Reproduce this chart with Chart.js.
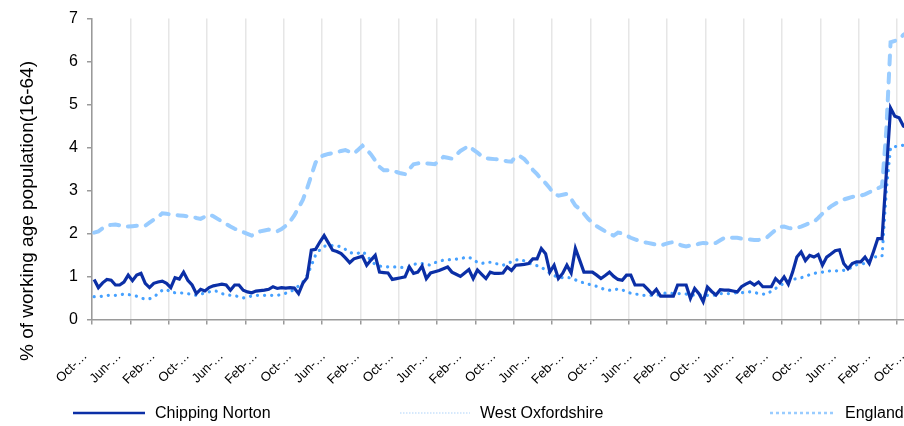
<!DOCTYPE html>
<html lang="en">
<head>
<meta charset="utf-8">
<title>Claimant count, % of working age population</title>
<script src="https://cdn.jsdelivr.net/npm/chart.js@4.4.1/dist/chart.umd.min.js"></script>
<style>
    html, body { margin: 0; padding: 0; background: #fff; overflow: hidden; }
    .wrap { position: relative; width: 914px; height: 426px; }
    #chart { position: absolute; left: 0; top: 0; }
    .legend { position: absolute; left: 0; top: 403px; width: 904px; height: 20px;
              font: 16px "Liberation Sans", Arial, sans-serif; color: #000; }
    .legend-item { position: absolute; top: 0; height: 20px; display: flex; align-items: center; white-space: nowrap; }
    .legend-item svg { margin-right: 10px; }
</style>
</head>
<body>
<div class="wrap">
    <canvas id="chart" width="914" height="426"></canvas>
    <div class="legend" id="legend"></div>
</div>
<script>
// Months Oct-04 .. Oct-20 (category axis)
const MONTHS = ['Jan', 'Feb', 'Mar', 'Apr', 'May', 'Jun', 'Jul', 'Aug', 'Sep', 'Oct', 'Nov', 'Dec'];
const categories = [];
for (let m = 2004 * 12 + 9; m <= 2020 * 12 + 9; m++) {
    categories.push(MONTHS[m % 12] + '-' + String(Math.floor(m / 12)).slice(2));
}

const yTicks = [0, 1, 2, 3, 4, 5, 6, 7];

const chippingNorton = [
    0.93, 0.74, 0.85, 0.93, 0.91, 0.80, 0.80, 0.87, 1.03, 0.90,
    1.03, 1.07, 0.84, 0.74, 0.84, 0.87, 0.89, 0.84, 0.74, 0.97,
    0.94, 1.10, 0.91, 0.80, 0.60, 0.70, 0.66, 0.74, 0.78, 0.80,
    0.82, 0.80, 0.68, 0.80, 0.80, 0.68, 0.64, 0.62, 0.66, 0.67,
    0.68, 0.70, 0.76, 0.72, 0.74, 0.73, 0.74, 0.73, 0.60, 0.84,
    0.97, 1.61, 1.63, 1.80, 1.95, 1.78, 1.61, 1.58, 1.53, 1.43,
    1.32, 1.41, 1.44, 1.47, 1.26, 1.38, 1.49, 1.10, 1.09, 1.08,
    0.93, 0.95, 0.97, 0.99, 1.22, 1.07, 1.10, 1.24, 0.95, 1.08,
    1.11, 1.14, 1.18, 1.22, 1.10, 1.05, 1.00, 1.08, 1.16, 0.95,
    1.15, 1.05, 0.95, 1.10, 1.07, 1.07, 1.08, 1.22, 1.14, 1.26,
    1.27, 1.28, 1.30, 1.41, 1.41, 1.65, 1.53, 1.10, 1.26, 0.95,
    1.07, 1.26, 1.08, 1.65, 1.38, 1.10, 1.10, 1.10, 1.03, 0.95,
    1.02, 1.10, 1.00, 0.93, 0.91, 1.03, 1.03, 0.80, 0.80, 0.80,
    0.70, 0.59, 0.70, 0.54, 0.54, 0.54, 0.54, 0.80, 0.80, 0.80,
    0.49, 0.72, 0.60, 0.41, 0.75, 0.65, 0.57, 0.69, 0.68, 0.68,
    0.66, 0.64, 0.76, 0.82, 0.87, 0.80, 0.87, 0.76, 0.76, 0.76,
    0.95, 0.85, 0.99, 0.82, 1.10, 1.45, 1.57, 1.37, 1.49, 1.45,
    1.51, 1.26, 1.45, 1.52, 1.60, 1.62, 1.30, 1.18, 1.30, 1.34,
    1.34, 1.45, 1.30, 1.58, 1.88, 1.88, 3.40, 4.92, 4.73, 4.69,
    4.50, 4.45, 4.40
];

const westOxfordshire = [
    0.53, 0.53, 0.54, 0.56, 0.56, 0.56, 0.57, 0.59, 0.58, 0.56,
    0.54, 0.50, 0.47, 0.48, 0.52, 0.60, 0.68, 0.70, 0.63, 0.62,
    0.62, 0.61, 0.60, 0.58, 0.56, 0.59, 0.61, 0.64, 0.67, 0.65,
    0.60, 0.58, 0.56, 0.55, 0.53, 0.50, 0.51, 0.55, 0.56, 0.56,
    0.56, 0.56, 0.56, 0.56, 0.58, 0.61, 0.64, 0.70, 0.78, 0.87,
    1.02, 1.25, 1.50, 1.62, 1.70, 1.72, 1.72, 1.72, 1.68, 1.63,
    1.56, 1.53, 1.54, 1.58, 1.50, 1.36, 1.28, 1.24, 1.23, 1.22,
    1.22, 1.22, 1.21, 1.21, 1.22, 1.28, 1.30, 1.30, 1.28, 1.26,
    1.32, 1.35, 1.38, 1.39, 1.39, 1.40, 1.41, 1.44, 1.45, 1.39,
    1.33, 1.30, 1.33, 1.33, 1.30, 1.29, 1.26, 1.30, 1.34, 1.38,
    1.40, 1.36, 1.32, 1.27, 1.25, 1.22, 1.14, 1.08, 1.02, 0.98,
    0.97, 0.98, 0.96, 0.92, 0.88, 0.85, 0.82, 0.80, 0.77, 0.73,
    0.69, 0.68, 0.68, 0.71, 0.69, 0.64, 0.61, 0.59, 0.58, 0.56,
    0.56, 0.56, 0.56, 0.58, 0.61, 0.61, 0.60, 0.60, 0.60, 0.59,
    0.57, 0.56, 0.57, 0.56, 0.56, 0.55, 0.57, 0.60, 0.60, 0.60,
    0.61, 0.62, 0.62, 0.63, 0.64, 0.63, 0.60, 0.59, 0.59, 0.66,
    0.72, 0.78, 0.85, 0.89, 0.93, 0.95, 0.97, 1.00, 1.04, 1.07,
    1.09, 1.10, 1.12, 1.13, 1.13, 1.13, 1.14, 1.17, 1.22, 1.27,
    1.30, 1.30, 1.37, 1.45, 1.46, 1.47, 3.00, 4.00, 4.02, 4.04,
    4.05, 4.05, 4.05
];

const england = [
    2.02, 2.05, 2.12, 2.18, 2.20, 2.21, 2.19, 2.16, 2.16, 2.17,
    2.18, 2.18, 2.18, 2.25, 2.32, 2.38, 2.47, 2.46, 2.44, 2.43,
    2.42, 2.41, 2.40, 2.39, 2.36, 2.34, 2.39, 2.44, 2.40, 2.34,
    2.28, 2.22, 2.16, 2.11, 2.07, 2.03, 1.99, 1.95, 2.00, 2.05,
    2.07, 2.09, 2.07, 2.05, 2.10, 2.18, 2.28, 2.42, 2.60, 2.78,
    3.05, 3.35, 3.65, 3.78, 3.82, 3.85, 3.87, 3.89, 3.92, 3.94,
    3.90, 3.86, 3.95, 4.04, 3.95, 3.84, 3.70, 3.55, 3.47, 3.47,
    3.46, 3.43, 3.40, 3.38, 3.50, 3.61, 3.63, 3.64, 3.63, 3.62,
    3.61, 3.70, 3.78, 3.76, 3.74, 3.83, 3.92, 3.98, 4.04, 3.95,
    3.88, 3.80, 3.75, 3.74, 3.73, 3.72, 3.70, 3.68, 3.67, 3.80,
    3.80, 3.73, 3.62, 3.48, 3.38, 3.26, 3.17, 3.05, 2.92, 2.88,
    2.90, 2.92, 2.80, 2.65, 2.57, 2.46, 2.34, 2.25, 2.17, 2.11,
    2.05, 1.99, 1.95, 2.02, 2.00, 1.95, 1.90, 1.86, 1.83, 1.80,
    1.78, 1.76, 1.74, 1.72, 1.75, 1.78, 1.80, 1.76, 1.72, 1.70,
    1.72, 1.73, 1.76, 1.78, 1.77, 1.76, 1.78, 1.84, 1.90, 1.91,
    1.90, 1.90, 1.88, 1.87, 1.86, 1.85, 1.85, 1.87, 1.91, 2.00,
    2.08, 2.15, 2.16, 2.13, 2.11, 2.13, 2.16, 2.20, 2.24, 2.27,
    2.36, 2.46, 2.55, 2.63, 2.69, 2.75, 2.79, 2.82, 2.85, 2.87,
    2.88, 2.91, 2.96, 3.00, 3.05, 3.10, 4.40, 6.45, 6.48, 6.52,
    6.62, 6.68, 6.70
];

const FONT = '"Liberation Sans", Arial, sans-serif';

// Excel-like legend swatches, keyed by dataset label
const legendSwatches = {
    'Chipping Norton': { left: 73, width: 72, stroke: '#0b2fa6', lineWidth: 2.5, dash: '' },
    'West Oxfordshire': { left: 400, width: 70, stroke: '#c9e2fb', lineWidth: 1.5, dash: '1.5,1.5' },
    'England': { left: 770, width: 65, stroke: '#99ccff', lineWidth: 2.5, dash: '3,3' }
};

/**
 * Rotated y-axis title, sitting a little below the centre of the plot like the original
 */
const yTitlePlugin = {
    id: 'yTitle',
    afterDraw(chart, args, opts) {
        const { ctx, chartArea } = chart;
        ctx.save();
        ctx.translate(opts.x, (chartArea.top + chartArea.bottom) / 2 + opts.shift);
        ctx.rotate(-Math.PI / 2);
        ctx.font = opts.font;
        ctx.fillStyle = opts.color;
        ctx.textAlign = 'center';
        ctx.textBaseline = 'middle';
        ctx.fillText(opts.text, 0, 0);
        ctx.restore();
    }
};

/**
 * HTML legend built from the chart datasets
 */
const htmlLegendPlugin = {
    id: 'htmlLegend',
    afterUpdate(chart) {
        const box = document.getElementById('legend');
        box.innerHTML = '';
        chart.data.datasets.forEach(ds => {
            const sw = legendSwatches[ds.label];
            const item = document.createElement('div');
            item.className = 'legend-item';
            item.style.left = sw.left + 'px';
            item.innerHTML =
                '<svg width="' + sw.width + '" height="6"><line x1="0" y1="3" x2="' + sw.width + '" y2="3" stroke="' +
                sw.stroke + '" stroke-width="' + sw.lineWidth + '"' + (sw.dash ? ' stroke-dasharray="' + sw.dash + '"' : '') +
                '/></svg><span>' + ds.label + '</span>';
            box.appendChild(item);
        });
    }
};

const ctx = document.getElementById('chart').getContext('2d');
new Chart(ctx, {
    type: 'line',
    data: {
        labels: categories,
        datasets: [
            {
                label: 'Chipping Norton',
                data: chippingNorton,
                borderColor: '#0b2fa6',
                borderWidth: 3.2,
                pointRadius: 0,
                tension: 0
            },
            {
                label: 'West Oxfordshire',
                data: westOxfordshire,
                borderColor: '#46a1ff',
                borderWidth: 3.2,
                borderDash: [0.1, 7],
                borderCapStyle: 'round',
                pointRadius: 0,
                tension: 0
            },
            {
                label: 'England',
                data: england,
                borderColor: '#99ccff',
                borderWidth: 4,
                borderDash: [9, 9],
                borderCapStyle: 'round',
                pointRadius: 0,
                tension: 0
            }
        ]
    },
    options: {
        responsive: false,
        animation: false,
        devicePixelRatio: 1,
        layout: { padding: { top: 17, right: 0, bottom: 0, left: 0 } },
        plugins: {
            legend: { display: false },
            tooltip: { enabled: false },
            yTitle: {
                text: '% of working age population(16-64)',
                font: '19px ' + FONT,
                color: '#000',
                x: 28,
                shift: 42
            }
        },
        scales: {
            x: {
                offset: true,
                afterFit: scale => {
                    scale.height = 106.6;
                    // the plot runs on past the right edge of the picture, so no room is kept for the last label
                    scale.paddingLeft = 0;
                    scale.paddingRight = 0;
                },
                border: { color: '#9a9a9a', width: 1.5 },
                grid: {
                    offset: true,
                    lineWidth: 1.5,
                    tickLength: 5,
                    color: c => (c.index % 9 === 0 ? '#e6e6e6' : 'rgba(0,0,0,0)'),
                    tickColor: c => (c.index % 9 === 0 ? '#9a9a9a' : 'rgba(0,0,0,0)')
                },
                ticks: {
                    autoSkip: false,
                    minRotation: 45,
                    maxRotation: 45,
                    padding: 24,
                    labelOffset: -9,
                    color: '#000',
                    font: { family: FONT, size: 13 },
                    callback: function(value, index) {
                        if (index % 8 !== 0) return '';
                        return this.getLabelForValue(value).split('-')[0] + '-\u2026';
                    }
                }
            },
            y: {
                min: 0,
                max: 7,
                afterFit: scale => { scale.width = 92; },
                afterBuildTicks: scale => { scale.ticks = yTicks.map(v => ({ value: v })); },
                border: { color: '#9a9a9a', width: 1.5 },
                grid: { drawOnChartArea: false, tickLength: 5, color: '#9a9a9a', lineWidth: 1.5 },
                ticks: {
                    padding: 9,
                    color: '#000',
                    font: { family: FONT, size: 16 }
                }
            }
        }
    },
    plugins: [yTitlePlugin, htmlLegendPlugin]
});
</script>
</body>
</html>
